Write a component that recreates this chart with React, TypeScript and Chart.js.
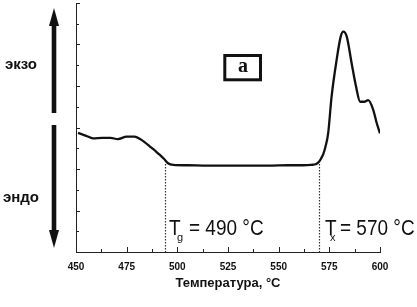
import React, { useEffect, useRef } from "react";
import { Chart, registerables } from "chart.js";

Chart.register(...registerables);

// ---- data (DSC curve) ----
const temperatures = [
  451, 455, 458.4, 463, 467, 470.7, 475, 479, 481.6, 484, 486.5, 489, 491.4, 493.5, 495.4, 498,
  505, 515, 525, 535, 545, 555, 562, 566, 568.5, 570, 571, 572, 573, 574.4, 576.1, 578.6, 580.6,
  581.9, 583.6, 586, 588.2, 590.2, 592.2, 594.2, 596.7, 598.3, 600,
];
const signal = [
  2.87, 2.8, 2.74, 2.75, 2.75, 2.72, 2.78, 2.78, 2.72, 2.64, 2.54, 2.44, 2.34, 2.24, 2.14, 2.1,
  2.09, 2.08, 2.08, 2.08, 2.08, 2.09, 2.09, 2.1, 2.12, 2.18, 2.26, 2.36, 2.52, 2.85, 3.74, 4.63,
  5.19, 5.31, 5.19, 4.55, 3.98, 3.62, 3.62, 3.66, 3.42, 3.12, 2.86,
];
const xTicks = [450, 475, 500, 525, 550, 575, 600];
const xMinorStep = 12.5;
const yMajorTicks = [0, 1, 2, 3, 4, 5, 6];
const yMinorStep = 0.5;
const markerLines = [494, 570];
const markerTop = 2.12;
const tgText = ["T", "g", "= 490 °C"];
const txText = ["T", "x", "= 570 °C"];
const xAxisTitle = "Температура, °C";
const exoLabel = "экзо";
const endoLabel = "эндо";
const panelLabel = "a";

const SANS = "'Liberation Sans', Arial, sans-serif";

const overlay = {
  id: "overlay",
  afterDraw(chart: any) {
    const { ctx, chartArea } = chart;
    const x = chart.scales.x;
    const y = chart.scales.y;
    ctx.save();
    ctx.strokeStyle = "#222";
    ctx.lineWidth = 1;
    // inward x ticks
    for (let v = xTicks[0]; v <= xTicks[xTicks.length - 1] + 0.01; v += xMinorStep) {
      const major = xTicks.includes(v);
      const px = Math.round(x.getPixelForValue(v)) + 0.5;
      ctx.beginPath();
      ctx.moveTo(px, chartArea.bottom);
      ctx.lineTo(px, chartArea.bottom - (major ? 5 : 3));
      ctx.stroke();
    }
    // inward y ticks
    for (let v = yMajorTicks[0]; v <= yMajorTicks[yMajorTicks.length - 1] + 0.01; v += yMinorStep) {
      const major = yMajorTicks.includes(v);
      const py = Math.round(y.getPixelForValue(v)) + 0.5;
      ctx.beginPath();
      ctx.moveTo(chartArea.left, py);
      ctx.lineTo(chartArea.left + (major ? 4 : 3), py);
      ctx.stroke();
    }
    // dotted marker lines
    ctx.setLineDash([1.5, 1.5]);
    ctx.lineWidth = 1.2;
    ctx.strokeStyle = "#333";
    for (const m of markerLines) {
      const px = Math.round(x.getPixelForValue(m)) + 0.5;
      ctx.beginPath();
      ctx.moveTo(px, y.getPixelForValue(markerTop));
      ctx.lineTo(px, chartArea.bottom);
      ctx.stroke();
    }
    ctx.setLineDash([]);

    // T labels (tall, slightly condensed look)
    const drawT = (parts: string[], x0: number, subX: number, restX: number) => {
      ctx.save();
      ctx.fillStyle = "#111";
      ctx.textBaseline = "alphabetic";
      ctx.textAlign = "left";
      ctx.save();
      ctx.translate(0, 235);
      ctx.scale(1, 1.12);
      ctx.font = `19px ${SANS}`;
      ctx.fillText(parts[0], x0, 0);
      ctx.fillText(parts[2], restX, 0);
      ctx.restore();
      ctx.font = `11px ${SANS}`;
      ctx.fillText(parts[1], subX, 241);
      ctx.restore();
    };
    drawT(tgText, 169, 177, 189);
    drawT(txText, 325, 330, 340);

    // panel label box
    ctx.lineWidth = 3;
    ctx.strokeStyle = "#111";
    ctx.strokeRect(224.8, 55.5, 35.7, 24.3);
    ctx.fillStyle = "#111";
    ctx.font = `bold 20px 'Liberation Serif', 'Times New Roman', serif`;
    ctx.textAlign = "center";
    ctx.textBaseline = "alphabetic";
    ctx.fillText(panelLabel, 243, 72);

    // exo / endo arrows
    const ax = 54;
    ctx.fillStyle = "#111";
    ctx.fillRect(ax - 2.3, 22, 4.6, 91);
    ctx.beginPath();
    ctx.moveTo(ax, 8);
    ctx.lineTo(ax - 5, 26);
    ctx.lineTo(ax + 5, 26);
    ctx.closePath();
    ctx.fill();
    ctx.fillRect(ax - 2.3, 125, 4.6, 108);
    ctx.beginPath();
    ctx.moveTo(ax, 248);
    ctx.lineTo(ax - 5, 230);
    ctx.lineTo(ax + 5, 230);
    ctx.closePath();
    ctx.fill();

    ctx.font = `bold 15px ${SANS}`;
    ctx.textAlign = "left";
    ctx.textBaseline = "alphabetic";
    ctx.fillText(exoLabel, 5, 69);
    ctx.fillText(endoLabel, 3, 202);
    ctx.restore();
  },
};

export default function App() {
  const ref = useRef<HTMLCanvasElement | null>(null);
  useEffect(() => {
    if (!ref.current) return;
    const chart = new Chart(ref.current, {
      type: "line",
      data: {
        datasets: [
          {
            data: temperatures.map((t, i) => ({ x: t, y: signal[i] })),
            borderColor: "#111",
            borderWidth: 2.3,
            pointRadius: 0,
            cubicInterpolationMode: "monotone",
            fill: false,
          },
        ],
      },
      options: {
        animation: false,
        responsive: false,
        maintainAspectRatio: false,
        layout: { padding: { left: 0, right: 37, top: 3, bottom: 0 } },
        plugins: { legend: { display: false }, tooltip: { enabled: false } },
        scales: {
          x: {
            type: "linear",
            min: xTicks[0],
            max: xTicks[xTicks.length - 1],
            afterBuildTicks: (s: any) => {
              s.ticks = xTicks.map((v) => ({ value: v }));
            },
            ticks: {
              autoSkip: false,
              maxRotation: 0,
              padding: 9,
              color: "#111",
              font: { family: SANS, size: 10, weight: "bold" },
            },
            grid: { display: false, drawTicks: false },
            border: { display: true, color: "#222", width: 1 },
            title: {
              display: true,
              text: xAxisTitle,
              color: "#111",
              font: { family: SANS, size: 13, weight: "bold" },
              padding: { top: 0, bottom: 16 },
            },
            afterFit: (s: any) => {
              s.height = 55;
            },
          },
          y: {
            type: "linear",
            min: yMajorTicks[0],
            max: yMajorTicks[yMajorTicks.length - 1],
            ticks: { display: false },
            grid: { display: false, drawTicks: false },
            border: { display: true, color: "#222", width: 1 },
            afterFit: (s: any) => {
              s.width = 76;
            },
          },
        },
      },
      plugins: [overlay],
    } as any);
    return () => chart.destroy();
  }, []);
  return (
    <div style={{ position: "fixed", top: 0, left: 0, width: 417, height: 307, background: "#fff" }}>
      <canvas ref={ref} width={417} height={307} style={{ width: 417, height: 307, display: "block" }} />
    </div>
  );
}
